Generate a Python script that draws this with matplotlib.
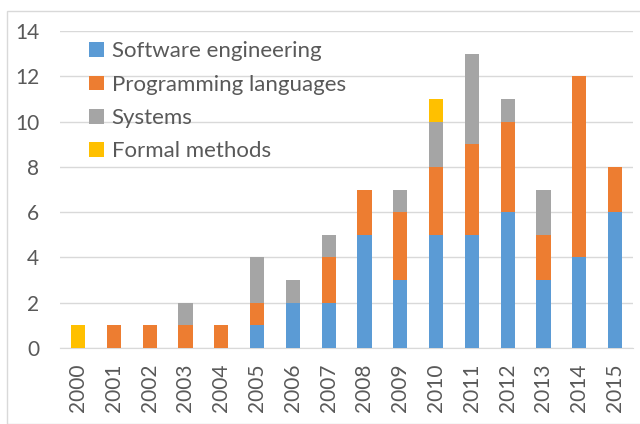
import matplotlib
matplotlib.use("Agg")
import matplotlib.pyplot as plt
from matplotlib.patches import Rectangle
import numpy as np

years = [str(y) for y in range(2000, 2016)]
software_engineering = [0, 0, 0, 0, 0, 1, 2, 2, 5, 3, 5, 5, 6, 3, 4, 6]
programming_languages = [0, 1, 1, 1, 1, 1, 0, 2, 2, 3, 3, 4, 4, 2, 8, 2]
systems = [0, 0, 0, 1, 0, 2, 1, 1, 0, 1, 2, 4, 1, 2, 0, 0]
formal_methods = [1, 0, 0, 0, 0, 0, 0, 0, 0, 0, 1, 0, 0, 0, 0, 0]

series = [
    ("Software engineering", software_engineering, "#5B9BD5"),
    ("Programming languages", programming_languages, "#ED7D31"),
    ("Systems", systems, "#A5A5A5"),
    ("Formal methods", formal_methods, "#FFC000"),
]

plt.rcParams['font.family'] = ['Lato', 'DejaVu Sans']
txt = "#595959"

fig = plt.figure(figsize=(6.4, 4.24), dpi=100)
ax = fig.add_axes([0.094, 0.179, 0.895, 0.748])

x = np.arange(len(years))
bottom = np.zeros(len(years))
for name, vals, col in series:
    v = np.array(vals, dtype=float)
    ax.bar(x, v, bottom=bottom, width=0.4, color=col, label=name, zorder=3)
    bottom += v

ax.set_xlim(-0.5, len(years) - 0.5)
ax.set_ylim(0, 14)
ax.set_yticks(range(0, 15, 2))
ax.set_xticks(x)
ax.set_xticklabels(years, rotation=90, fontsize=15, color=txt)
ax.tick_params(axis='y', labelsize=15, colors=txt, length=0, pad=15)
ax.tick_params(axis='x', length=0, pad=11)
ax.grid(axis='y', color='#D9D9D9', linewidth=1, zorder=0)
for s in ['top', 'right', 'left']:
    ax.spines[s].set_visible(False)
ax.spines['bottom'].set_color('#D9D9D9')

leg = ax.legend(loc='upper left', bbox_to_anchor=(0.016, 1.03), frameon=False,
                fontsize=16, handlelength=0.65, handleheight=0.65,
                handletextpad=0.35, labelspacing=0.6, labelcolor=txt)

fig.patches.append(Rectangle((7/640, 0), 1, 1 - 11/424, transform=fig.transFigure,
                             fill=False, edgecolor='#D9D9D9', linewidth=1))

fig.savefig("out.png", dpi=100)
